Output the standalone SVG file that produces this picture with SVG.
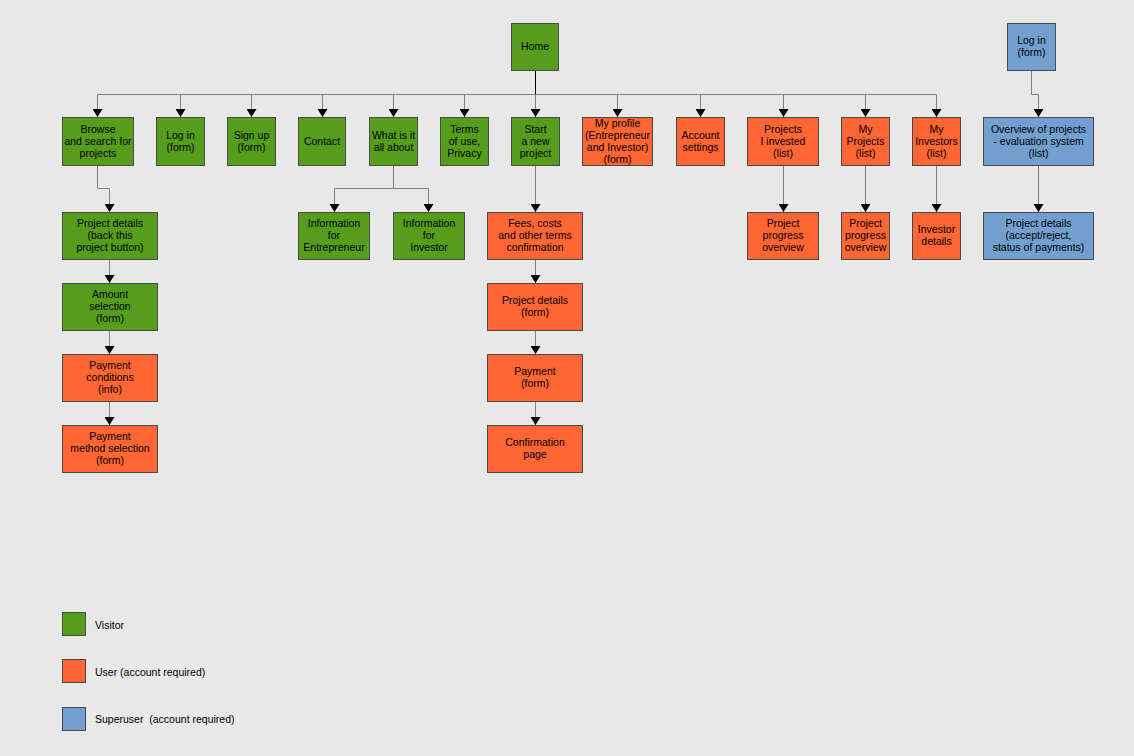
<svg xmlns="http://www.w3.org/2000/svg" width="1134" height="756" viewBox="0 0 1134 756">
<style>
.g{fill:#579d1c;stroke:#4a4a4a;stroke-width:1}
.o{fill:#ff6633;stroke:#4a4a4a;stroke-width:1}
.b{fill:#729fcf;stroke:#4a4a4a;stroke-width:1}
text{font-family:"Liberation Sans",Arial,sans-serif;font-size:10.5px;fill:#000;text-anchor:middle}
.lg{text-anchor:start}
.c{fill:none;stroke:#808080;stroke-width:1}
.t{fill:none;stroke:#000;stroke-width:1}
</style>
<defs>
<marker id="ar" viewBox="0 0 8 10" refX="8" refY="5" markerWidth="8" markerHeight="10" markerUnits="userSpaceOnUse" orient="auto">
<path d="M0,0 L8,5 L0,10 Z" fill="#000"/>
</marker>
</defs>
<rect width="1134" height="756" fill="#e8e8e8"/>
<g id="connectors">
<path class="t" d="M535.5,70 V94.5"/>
<path class="t" d="M180,94.5 H865"/>
<path class="c" d="M535.5,94.5 H97.5 V117" marker-end="url(#ar)"/>
<path class="c" d="M180.5,94.5 V117" marker-end="url(#ar)"/>
<path class="c" d="M251.5,94.5 V117" marker-end="url(#ar)"/>
<path class="c" d="M322.5,94.5 V117" marker-end="url(#ar)"/>
<path class="c" d="M393.5,94.5 V117" marker-end="url(#ar)"/>
<path class="c" d="M464.5,94.5 V117" marker-end="url(#ar)"/>
<path class="c" d="M535.5,94.5 V117" marker-end="url(#ar)"/>
<path class="c" d="M617.5,94.5 V117" marker-end="url(#ar)"/>
<path class="c" d="M700.5,94.5 V117" marker-end="url(#ar)"/>
<path class="c" d="M783.5,94.5 V117" marker-end="url(#ar)"/>
<path class="c" d="M865.5,94.5 V117" marker-end="url(#ar)"/>
<path class="c" d="M535.5,94.5 H936.5 V117" marker-end="url(#ar)"/>
<path class="c" d="M97.5,165 V188.5 H109.5 V212" marker-end="url(#ar)"/>
<path class="c" d="M109.5,259 V283" marker-end="url(#ar)"/>
<path class="c" d="M109.5,330 V354" marker-end="url(#ar)"/>
<path class="c" d="M109.5,401 V425" marker-end="url(#ar)"/>
<path class="c" d="M393.5,165 V188.5 H334.5 V212" marker-end="url(#ar)"/>
<path class="c" d="M393.5,188.5 H428.5 V212" marker-end="url(#ar)"/>
<path class="c" d="M535.5,165 V212" marker-end="url(#ar)"/>
<path class="c" d="M535.5,259 V283" marker-end="url(#ar)"/>
<path class="c" d="M535.5,330 V354" marker-end="url(#ar)"/>
<path class="c" d="M535.5,401 V425" marker-end="url(#ar)"/>
<path class="c" d="M783.5,165 V212" marker-end="url(#ar)"/>
<path class="c" d="M865.5,165 V212" marker-end="url(#ar)"/>
<path class="c" d="M936.5,165 V212" marker-end="url(#ar)"/>
<path class="c" d="M1031.5,70 V94.5 H1038.5 V117" marker-end="url(#ar)"/>
<path class="c" d="M1038.5,165 V212" marker-end="url(#ar)"/>
</g>
<g id="home"><rect class="g" x="511.5" y="23.5" width="47" height="47"/><text x="535" y="50.2">Home</text></g>
<g id="browse"><rect class="g" x="62.5" y="117.5" width="71" height="48"/><text x="98" y="132.7">Browse</text><text x="98" y="144.7">and search for</text><text x="98" y="156.7">projects</text></g>
<g id="login"><rect class="g" x="156.5" y="117.5" width="48" height="48"/><text x="180.5" y="138.7">Log in</text><text x="180.5" y="150.7">(form)</text></g>
<g id="signup"><rect class="g" x="227.5" y="117.5" width="48" height="48"/><text x="251.5" y="138.7">Sign up</text><text x="251.5" y="150.7">(form)</text></g>
<g id="contact"><rect class="g" x="298.5" y="117.5" width="47" height="48"/><text x="322" y="144.7">Contact</text></g>
<g id="what"><rect class="g" x="369.5" y="117.5" width="48" height="48"/><text x="393.5" y="138.7">What is it</text><text x="393.5" y="150.7">all about</text></g>
<g id="terms"><rect class="g" x="440.5" y="117.5" width="48" height="48"/><text x="464.5" y="132.7">Terms</text><text x="464.5" y="144.7">of use,</text><text x="464.5" y="156.7">Privacy</text></g>
<g id="start"><rect class="g" x="511.5" y="117.5" width="48" height="48"/><text x="535.5" y="132.7">Start</text><text x="535.5" y="144.7">a new</text><text x="535.5" y="156.7">project</text></g>
<g id="profile"><rect class="o" x="582.5" y="117.5" width="70" height="48"/><text x="617.5" y="126.7">My profile</text><text x="617.5" y="138.7">(Entrepreneur</text><text x="617.5" y="150.7">and Investor)</text><text x="617.5" y="162.7">(form)</text></g>
<g id="account"><rect class="o" x="676.5" y="117.5" width="48" height="48"/><text x="700.5" y="138.7">Account</text><text x="700.5" y="150.7">settings</text></g>
<g id="invested"><rect class="o" x="747.5" y="117.5" width="71" height="48"/><text x="783" y="132.7">Projects</text><text x="783" y="144.7">I invested</text><text x="783" y="156.7">(list)</text></g>
<g id="myprojects"><rect class="o" x="841.5" y="117.5" width="48" height="48"/><text x="865.5" y="132.7">My</text><text x="865.5" y="144.7">Projects</text><text x="865.5" y="156.7">(list)</text></g>
<g id="myinvestors"><rect class="o" x="912.5" y="117.5" width="48" height="48"/><text x="936.5" y="132.7">My</text><text x="936.5" y="144.7">Investors</text><text x="936.5" y="156.7">(list)</text></g>
<g id="adminlogin"><rect class="b" x="1007.5" y="23.5" width="48" height="47"/><text x="1031.5" y="44.2">Log in</text><text x="1031.5" y="56.2">(form)</text></g>
<g id="overview"><rect class="b" x="983.5" y="117.5" width="110" height="48"/><text x="1038.5" y="132.7">Overview of projects</text><text x="1038.5" y="144.7">- evaluation system</text><text x="1038.5" y="156.7">(list)</text></g>
<g id="projectdetails1"><rect class="g" x="62.5" y="212.5" width="95" height="47"/><text x="110" y="227.2">Project details</text><text x="110" y="239.2">(back this</text><text x="110" y="251.2">project button)</text></g>
<g id="infoentrepreneur"><rect class="g" x="298.5" y="212.5" width="71" height="47"/><text x="334" y="227.2">Information</text><text x="334" y="239.2">for</text><text x="334" y="251.2">Entrepreneur</text></g>
<g id="infoinvestor"><rect class="g" x="393.5" y="212.5" width="71" height="47"/><text x="429" y="227.2">Information</text><text x="429" y="239.2">for</text><text x="429" y="251.2">Investor</text></g>
<g id="fees"><rect class="o" x="487.5" y="212.5" width="95" height="47"/><text x="535" y="227.2">Fees, costs</text><text x="535" y="239.2">and other terms</text><text x="535" y="251.2">confirmation</text></g>
<g id="progress1"><rect class="o" x="747.5" y="212.5" width="71" height="47"/><text x="783" y="227.2">Project</text><text x="783" y="239.2">progress</text><text x="783" y="251.2">overview</text></g>
<g id="progress2"><rect class="o" x="841.5" y="212.5" width="48" height="47"/><text x="865.5" y="227.2">Project</text><text x="865.5" y="239.2">progress</text><text x="865.5" y="251.2">overview</text></g>
<g id="investordetails"><rect class="o" x="912.5" y="212.5" width="48" height="47"/><text x="936.5" y="233.2">Investor</text><text x="936.5" y="245.2">details</text></g>
<g id="admindetails"><rect class="b" x="983.5" y="212.5" width="110" height="47"/><text x="1038.5" y="227.2">Project details</text><text x="1038.5" y="239.2">(accept/reject,</text><text x="1038.5" y="251.2">status of payments)</text></g>
<g id="amount"><rect class="g" x="62.5" y="283.5" width="95" height="47"/><text x="110" y="298.2">Amount</text><text x="110" y="310.2">selection</text><text x="110" y="322.2">(form)</text></g>
<g id="projectdetailsform"><rect class="o" x="487.5" y="283.5" width="95" height="47"/><text x="535" y="304.2">Project details</text><text x="535" y="316.2">(form)</text></g>
<g id="paymentconditions"><rect class="o" x="62.5" y="354.5" width="95" height="47"/><text x="110" y="369.2">Payment</text><text x="110" y="381.2">conditions</text><text x="110" y="393.2">(info)</text></g>
<g id="payment"><rect class="o" x="487.5" y="354.5" width="95" height="47"/><text x="535" y="375.2">Payment</text><text x="535" y="387.2">(form)</text></g>
<g id="paymentmethod"><rect class="o" x="62.5" y="425.5" width="95" height="47"/><text x="110" y="440.2">Payment</text><text x="110" y="452.2">method selection</text><text x="110" y="464.2">(form)</text></g>
<g id="confirmation"><rect class="o" x="487.5" y="425.5" width="95" height="47"/><text x="535" y="446.2">Confirmation</text><text x="535" y="458.2">page</text></g>
<g id="legend">
<rect class="g" x="62.5" y="612.5" width="23" height="23"/><text class="lg" x="95" y="628.7">Visitor</text>
<rect class="o" x="62.5" y="659.5" width="23" height="23"/><text class="lg" x="95" y="675.7">User (account required)</text>
<rect class="b" x="62.5" y="707.5" width="23" height="23"/><text class="lg" x="95" y="723" xml:space="preserve">Superuser  (account required)</text>
</g>
</svg>
